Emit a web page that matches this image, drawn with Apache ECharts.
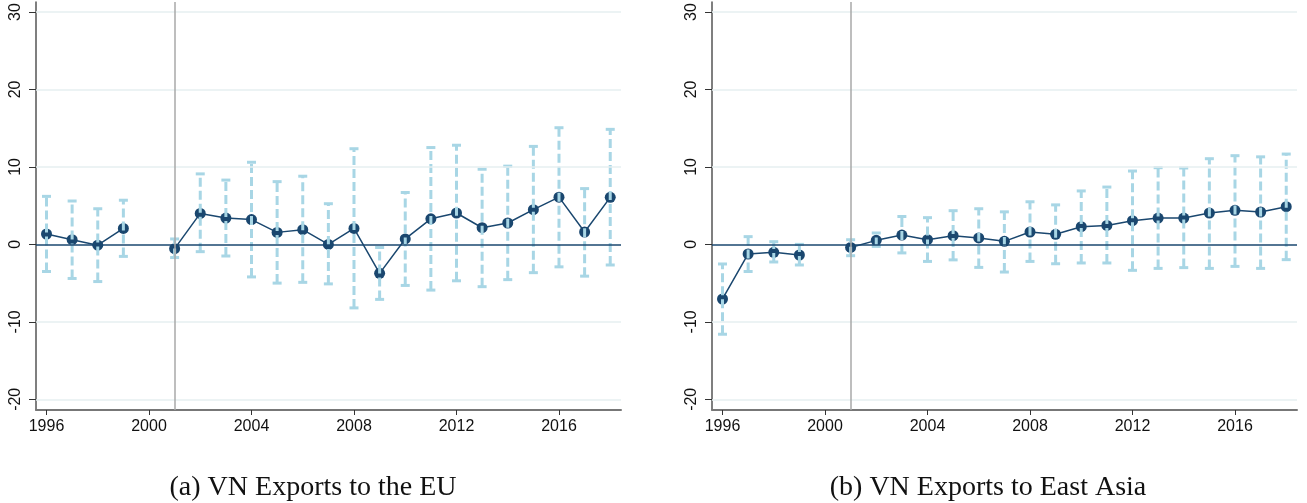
<!DOCTYPE html>
<html>
<head>
<meta charset="utf-8">
<script src="https://cdn.jsdelivr.net/npm/echarts@6/dist/echarts.min.js"></script>
<style>
html,body{margin:0;padding:0;background:#fff;}
#c{width:1307px;height:503px;}
</style>
</head>
<body>
<div id="c"></div>
<script>
// ---- data ----
var years = [1996,1997,1998,1999,2001,2002,2003,2004,2005,2006,2007,2008,2009,2010,2011,2012,2013,2014,2015,2016,2017,2018];
var euCoef  = [1.34,0.6,-0.1,2.06,-0.55,4.0,3.4,3.2,1.55,1.9,0.0,2.06,-3.74,0.7,3.3,4.05,2.15,2.76,4.48,6.1,1.6,6.07];
var euHi    = [6.2,5.6,4.6,5.7,0.7,9.1,8.3,10.6,8.1,8.8,5.25,12.35,-0.4,6.7,12.5,12.8,9.7,10.1,12.65,15.06,7.2,14.85];
var euLo    = [-3.5,-4.4,-4.8,-1.55,-1.7,-0.94,-1.5,-4.2,-5.0,-4.9,-5.1,-8.2,-7.1,-5.3,-5.9,-4.7,-5.46,-4.55,-3.65,-2.9,-4.1,-2.66];
var eaCoef  = [-7.05,-1.24,-1.03,-1.37,-0.39,0.52,1.2,0.6,1.12,0.83,0.39,1.6,1.3,2.28,2.45,3.06,3.4,3.4,4.05,4.4,4.18,4.86];
var eaHi    = [-2.53,1.0,0.35,0.0,0.6,1.47,3.6,3.45,4.35,4.6,4.2,5.5,5.1,6.9,7.4,9.47,9.9,9.86,11.06,11.45,11.3,11.66];
var eaLo    = [-11.6,-3.5,-2.27,-2.66,-1.46,-0.26,-1.1,-2.2,-2.0,-2.97,-3.57,-2.2,-2.5,-2.4,-2.4,-3.35,-3.1,-3.0,-3.1,-2.84,-3.1,-1.97];
var xTicks = [1996,2000,2004,2008,2012,2016];
var yTicks = [-20,-10,0,10,20,30];
var gridVals = [-20,-10,10,20,30];
var eventYear = 2001;
var captions = ['(a) VN Exports to the EU','(b) VN Exports to East Asia'];

var NAVY = '#1a476f', CI = '#a8d6e5';

function pairs(a){ // split into segments at the gap (2000 missing)
  var out=[];
  for(var i=0;i<years.length;i++){
    if(i>0 && years[i]-years[i-1]>1) out.push([years[i]-1,null]);
    out.push([years[i],a[i]]);
  }
  return out;
}
function ciData(lo,hi){ return years.map(function(y,i){return [y,lo[i],hi[i]];}); }

function ciRender(params, api){
  var x=api.value(0), lo=api.value(1), hi=api.value(2);
  var p1=api.coord([x,lo]), p2=api.coord([x,hi]);
  var w=4.5;
  var st={stroke:CI,lineWidth:3};
  return {type:'group',children:[
    {type:'line',shape:{x1:p1[0],y1:p1[1],x2:p2[0],y2:p2[1]},style:{stroke:CI,lineWidth:3,lineDash:[9,4]}},
    {type:'line',shape:{x1:p1[0]-w,y1:p1[1],x2:p1[0]+w,y2:p1[1]},style:st},
    {type:'line',shape:{x1:p2[0]-w,y1:p2[1],x2:p2[0]+w,y2:p2[1]},style:st}
  ]};
}

var grids=[{left:36,top:2,width:585,height:408},{left:712,top:2,width:585,height:408}];
var xAxes=[], yAxes=[], series=[];
var sets=[[euCoef,euLo,euHi],[eaCoef,eaLo,eaHi]];
for(var g=0; g<2; g++){
  xAxes.push({type:'value',gridIndex:g,min:1995.59,max:2018.42,
    axisLine:{show:true,onZero:false,lineStyle:{color:'#777',width:2}},
    axisTick:{show:true,length:5,customValues:xTicks,lineStyle:{color:'#333',width:1}},
    axisLabel:{customValues:xTicks,margin:9,color:'#111',fontSize:16,fontFamily:'Liberation Sans, Arial, sans-serif',
      formatter:function(v){return String(Math.round(v));}},
    splitLine:{show:false}});
  yAxes.push({type:'value',gridIndex:g,min:-21.38,max:31.29,
    axisLine:{show:true,onZero:false,lineStyle:{color:'#555',width:1.5}},
    axisTick:{show:true,length:7,customValues:yTicks,lineStyle:{color:'#333',width:1}},
    axisLabel:{customValues:yTicks,rotate:90,margin:12,color:'#111',fontSize:16,fontFamily:'Liberation Sans, Arial, sans-serif'},
    splitLine:{show:false}});
  var d=sets[g];
  series.push({type:'line',xAxisIndex:g,yAxisIndex:g,data:pairs(d[0]),connectNulls:false,
    lineStyle:{color:NAVY,width:1.5},symbol:'circle',symbolSize:11,itemStyle:{color:NAVY},z:3,
    silent:true,animation:false,
    markLine:{silent:true,symbol:'none',label:{show:false},animation:false,
      data:gridVals.map(function(v){return {yAxis:v,lineStyle:{color:'#e6eff1',width:1.5,type:'solid'}};})
        .concat([{yAxis:0,lineStyle:{color:NAVY,width:1.5,type:'solid'}},
                 {xAxis:eventYear,lineStyle:{color:'#a8a8a8',width:1.5,type:'solid'}}])}});
  series.push({type:'custom',xAxisIndex:g,yAxisIndex:g,data:ciData(d[1],d[2]),renderItem:ciRender,z:4,silent:true,animation:false});
}

var chart=echarts.init(document.getElementById('c'),null,{renderer:'canvas'});
chart.setOption({
  animation:false,
  grid:grids,xAxis:xAxes,yAxis:yAxes,series:series,
  graphic:[
    {type:'text',style:{text:captions[0],x:313,y:488,align:'center',verticalAlign:'middle',font:'28px "Liberation Serif", serif',fill:'#111'}},
    {type:'text',style:{text:captions[1],x:988,y:488,align:'center',verticalAlign:'middle',font:'28px "Liberation Serif", serif',fill:'#111'}}
  ]
});
</script>
</body>
</html>
